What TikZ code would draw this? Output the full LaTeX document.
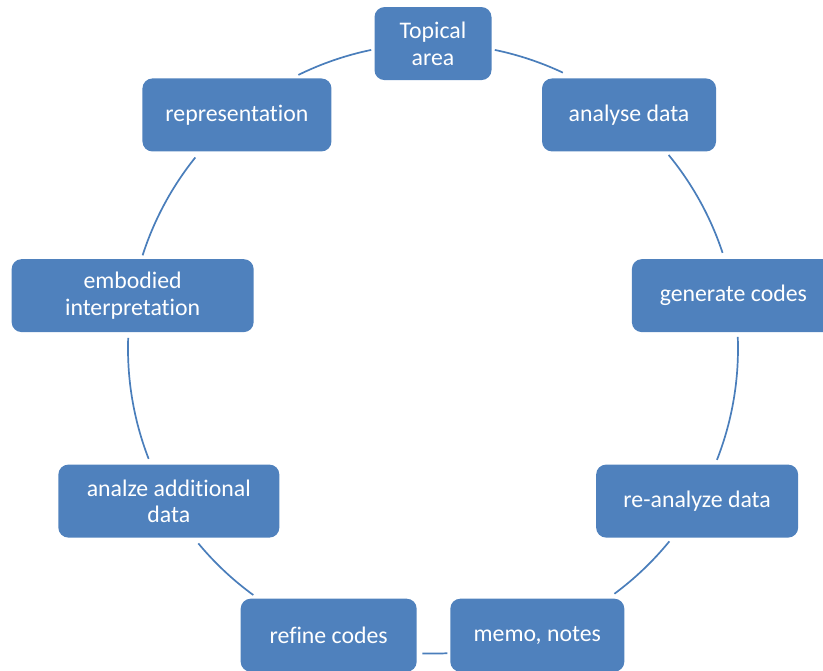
\documentclass[tikz,border=0pt]{standalone}
\usepackage{fontspec}
\setmainfont{Carlito}[RawFeature={-liga}]
\usetikzlibrary{calc}
\definecolor{boxblue}{HTML}{4F81BD}
\definecolor{linkblue}{HTML}{4A7EBB}
\begin{document}
\begin{tikzpicture}[x=1pt,y=1pt,
  cyclebox/.style={rectangle, rounded corners=10pt, fill=boxblue, draw=none,
    text=white, align=center, minimum height=73pt, inner sep=0pt,
    font=\fontsize{23.8}{26.5}\selectfont},
  link/.style={draw=linkblue, line width=1.7pt}]
  \useasboundingbox (0,0) rectangle (823,671);
  \clip (0,0) rectangle (823,671);
  % centre of the cycle
  \coordinate (c) at (433,322.4);
  % the nine stages
  \node[cyclebox, minimum width=117pt] (topic) at ($(c)+(90:305)$) {Topical\\area};
  \node[cyclebox, minimum width=174pt] (analyse) at ($(c)+(50:305)$) {analyse data};
  \node[cyclebox, minimum width=203pt] (generate) at ($(c)+(10:305)$) {generate codes};
  \node[cyclebox, minimum width=202pt] (reanalyze) at ($(c)+(-30:305)$) {re-analyze data};
  \node[cyclebox, minimum width=174pt] (memo) at ($(c)+(-70:305)$) {memo, notes};
  \node[cyclebox, minimum width=176pt] (refine) at ($(c)+(-110:305)$) {refine codes};
  \node[cyclebox, minimum width=221pt] (additional) at ($(c)+(-150:305)$) {analze additional\\data};
  \node[cyclebox, minimum width=242pt] (embodied) at ($(c)+(170:305)$) {embodied\\interpretation};
  \node[cyclebox, minimum width=189pt] (repr) at ($(c)+(130:305)$) {representation};
  % arcs of the cycle between neighbouring stages
  \foreach \a/\b in {78.3/64.8, 39.4/18.3, 2.2/-21.4, -39.2/-53.5, -87.3/-92.0,
                     -126.1/-140.3, -158.8/-182, 162.2/141.2, 116.2/101.7}
    \draw[link] ($(c)+(\a:305)$) arc[start angle=\a, end angle=\b, radius=305];
\end{tikzpicture}
\end{document}
